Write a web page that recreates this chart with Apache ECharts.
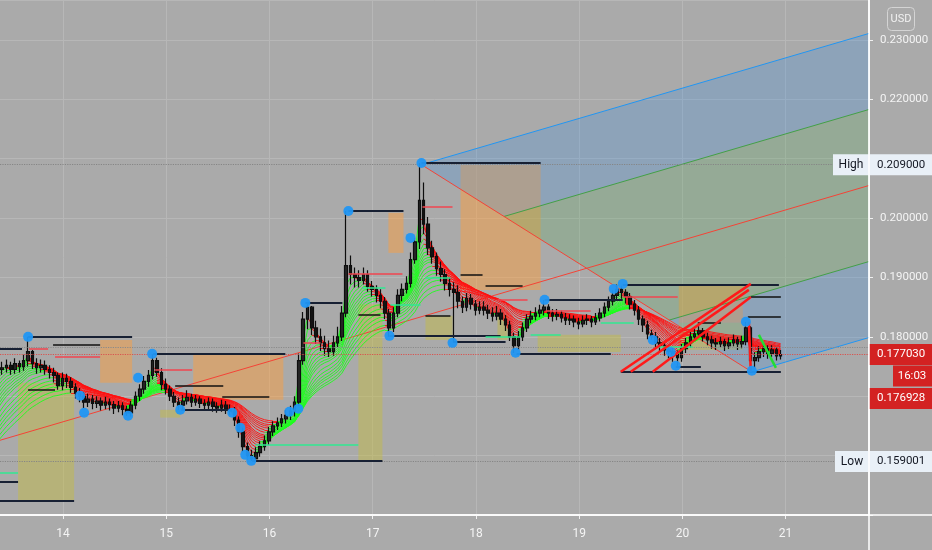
<!DOCTYPE html>
<html><head><meta charset="utf-8">
<script src="https://cdn.jsdelivr.net/npm/echarts@6/dist/echarts.min.js"></script>
<style>html,body{margin:0;padding:0;background:#aaaaaa}#c{width:932px;height:550px}</style>
</head><body><div id="c"></div>
<script>
// ---- data (prices in 1/10000 USD for candles) ----
const t0 = 13.41, STEP = 1 / 24, U = 1e-4;
const warmupCloses = [1540,1545,1550,1560,1575,1590,1610,1630,1650,1670,1690,1705,1720,1730,1740,1745];
const closes = [
1748,1752,1745,1755,1750,1760,1775, 1755,1748,1752,1745,1740,1735,1718, 1730,1725,1715,1705,1700,
1690,1695,1688,1692,1685,1690,1686,1680,1684,1678,1672, 1685,1700,1712,1725,1735,1760,
1740,1720,1712,1700,1690,1685, 1692,1698,1690,1695,1688,1685,1690,1683,1680,1685,1678,1675,
1660,1640,1615,1600,1595, 1605,1615,1625,1640,1650,1655,1662,1668,1675, 1690,1760,1830,1850,
1815,1800,1790,1780,1775,1790,1800,1840, 1920,1905, 1900,1895,1905,1885,1880,1870,1860,1840,1815,
1840,1870,1880,1890,1930,1960,2030, 1990,1950,1935,1915,1905,1890,1880,1875,
1860,1850,1865,1855,1845,1850, 1845,1840,1835,1840,1830,1820,1800,1785,
1800,1815,1830,1835,1840,1845,1850, 1840,1835,1838,1832,1828,1830,1825,1822,1828,1830,1825,1832,1840,
1850,1860,1870,1880,1875,1868, 1855,1845,1830,1820,1805,1800, 1790,1785,1778,1775,1770,1765,
1780,1790,1800,1805,1810,1800,1795,1790,1788,1792,1785,1790,1795,1788,1792,
1815,1760,1765,1775,1780,1772,1778,1768,1770];
const highs = [
1758,1762,1758,1764,1760,1770,1800, 1778,1764,1762,1760,1752,1748,1740, 1740,1738,1732,1722,1714,
1707,1704,1702,1700,1698,1699,1696,1692,1692,1690,1684, 1692,1708,1720,1734,1744,1771,
1765,1747,1730,1718,1707,1698, 1702,1710,1704,1702,1700,1695,1698,1696,1690,1694,1692,1686,
1682,1666,1647,1622,1610, 1614,1624,1634,1648,1658,1664,1670,1677,1684, 1700,1772,1842,1857,
1852,1827,1814,1802,1794,1802,1817,1852, 2012,1937, 1917,1912,1917,1912,1894,1887,1880,1867,1847,
1850,1880,1890,1902,1942,1967,2093, 2060,2002,1962,1942,1927,1914,1900,1892,
1887,1868,1874,1872,1862,1860, 1860,1854,1850,1852,1847,1837,1827,1807,
1810,1824,1838,1844,1850,1854,1862, 1855,1847,1847,1844,1840,1838,1836,1832,1836,1838,1835,1840,1848,
1858,1868,1878,1888,1886,1880, 1874,1862,1852,1836,1827,1812, 1808,1798,1792,1786,1782,1777,
1788,1798,1808,1814,1818,1815,1807,1802,1798,1800,1797,1799,1804,1800,1802,
1825,1818,1774,1784,1788,1786,1786,1782,1778];
const lows = [
1736,1740,1736,1738,1740,1743,1750, 1746,1738,1740,1736,1730,1723,1711, 1710,1714,1706,1696,1690,
1680,1682,1678,1680,1676,1678,1676,1670,1673,1668,1667, 1666,1678,1692,1704,1716,1728,
1733,1710,1703,1692,1682,1677, 1678,1686,1682,1684,1680,1676,1678,1674,1672,1674,1670,1668,
1650,1630,1606,1593,1591, 1590,1598,1608,1618,1633,1643,1648,1654,1660, 1666,1683,1753,1813,
1803,1788,1776,1768,1766,1768,1783,1793, 1833,1888, 1883,1883,1888,1876,1868,1858,1848,1830,1800,
1808,1833,1860,1873,1883,1923,1948, 1973,1938,1923,1903,1893,1878,1868,1790,
1848,1840,1843,1846,1836,1838, 1836,1830,1826,1828,1820,1810,1793,1773,
1778,1793,1808,1823,1828,1833,1836, 1830,1826,1828,1824,1820,1820,1816,1813,1816,1820,1816,1820,1826,
1833,1843,1853,1862,1864,1856, 1846,1836,1820,1808,1796,1795, 1780,1776,1768,1764,1758,1751,
1758,1773,1782,1793,1798,1792,1786,1780,1778,1782,1776,1780,1784,1778,1781,
1786,1743,1748,1758,1766,1763,1766,1760,1762];
const emaLengths = [2,3,4,5,6,7,8,9,10,11,12,14,16,18,20,22,25,28];
const xTicks = [14,15,16,17,18,19,20,21];
const yLabelTicks = [0.18,0.19,0.20,0.22,0.23];
// shaded session boxes: [day0, day1, priceLow, priceHigh, kind]
const rects = [
[13.564,14.107,0.15239,0.17226,'v'],[14.359,14.669,0.17226,0.17949,'o'],[14.941,15.135,0.16640,0.16771,'v'],
[15.261,16.134,0.16939,0.17697,'o'],[16.861,17.094,0.15896,0.18550,'v'],[17.152,17.298,0.19414,0.20088,'o'],
[17.511,17.773,0.17949,0.18354,'v'],[17.851,18.627,0.18791,0.20896,'o'],[18.209,18.307,0.17949,0.18371,'v'],
[18.598,19.403,0.17747,0.18034,'v'],[19.965,20.586,0.18236,0.18875,'o'],[19.965,20.586,0.17781,0.18236,'v']];
// horizontal levels: [day0, day1, price, kind]  k=pivot, b=box, r=red, g=green
const segments = [
[13.389,13.602,0.17798,'k'],[13.661,14.669,0.18000,'k'],[14.873,16.153,0.17714,'k'],[15.145,15.601,0.16771,'k'],
[15.833,17.094,0.15912,'k'],[16.347,16.706,0.18572,'k'],[16.764,17.298,0.20121,'k'],[17.162,18.239,0.18017,'k'],
[17.472,18.627,0.20930,'k'],[17.783,18.287,0.17916,'k'],[18.394,19.306,0.17714,'k'],[18.665,19.422,0.18623,'k'],
[19.422,20.935,0.18875,'k'],[19.936,20.179,0.17495,'k'],[19.403,20.954,0.17411,'k'],[13.389,14.107,0.15239,'k'],
[13.389,13.564,0.15559,'k'],
[13.903,14.359,0.17865,'b'],[13.661,13.922,0.17108,'b'],[15.086,15.552,0.17175,'b'],[15.542,15.998,0.16990,'b'],
[16.861,17.075,0.18370,'b'],[17.511,17.753,0.18354,'b'],[17.851,18.064,0.19044,'b'],[18.093,18.452,0.18859,'b'],
[20.663,20.954,0.18673,'b'],[20.634,20.954,0.18337,'b'],[20.149,20.373,0.18236,'b'],
[13.670,13.855,0.17798,'r'],[13.922,14.359,0.17663,'r'],[14.892,15.251,0.17444,'r'],[16.764,17.288,0.19061,'r'],
[17.482,17.773,0.20189,'r'],[18.209,18.500,0.18623,'r'],[18.675,19.111,0.18438,'r'],[19.422,19.955,0.18673,'r'],
[16.328,16.493,0.17899,'r'],
[13.389,13.564,0.15710,'g'],[15.862,16.861,0.16182,'g'],[16.900,17.123,0.18825,'g'],[17.172,17.463,0.18539,'g'],
[17.511,17.753,0.18993,'g'],[18.530,18.821,0.18034,'g'],[19.771,20.101,0.17832,'g'],[19.209,19.529,0.18236,'g'],
[18.093,18.433,0.18000,'g']];
const pivots = [
[13.661,0.1800],[14.165,0.17007],[14.204,0.16721],[14.630,0.16670],[14.727,0.17310],[14.863,0.17714],
[15.135,0.16771],[15.639,0.16721],[15.717,0.16468],[15.765,0.16013],[15.823,0.15912],[16.192,0.16737],
[16.279,0.16788],[16.347,0.18572],[16.764,0.20121],[17.162,0.18017],[17.366,0.19667],[17.472,0.20929],
[17.773,0.17899],[18.384,0.17731],[18.665,0.18623],[19.335,0.18808],[19.422,0.18892],[19.713,0.17949],
[19.887,0.17747],[19.936,0.17512],[20.615,0.18253],[20.673,0.17428]];
// drawn channel lines: [day0, price0, day1, price1, kind]
const channel = [
[19.403,0.17411,20.663,0.18892,'r'],[19.500,0.17411,20.644,0.18791,'r'],[19.713,0.17411,20.663,0.18673,'r'],
[20.644,0.18253,20.663,0.17411,'r'],[20.741,0.18034,20.906,0.17478,'g']];
const pfHandle = [13.0, 0.1606], pfHigh = [17.472, 0.2090], pfLow = [20.673, 0.1741];
const highPrice = 0.209, lowPrice = 0.159001, lastPrice = 0.17703, secondPrice = 0.176928, refLevel = 0.1783;
const countdown = '16:03';
const X_MIN = 13.389, X_MAX = 21.808, Y_MIN = 0.15, Y_MAX = 0.23673;

// ---- build ----
const FONT = "Roboto,'Liberation Sans',sans-serif";
const nW = warmupCloses.length;
const allCloses = warmupCloses.concat(closes);
const tOf = k => t0 + (k - nW) * STEP;
const greenSegs = [], redSegs = [];
emaLengths.forEach(L => {
  const a = 2 / (L + 1); let prev = allCloses[0];
  for (let k = 1; k < allCloses.length; k++) {
    const e = a * allCloses[k] + (1 - a) * prev;
    if (k >= nW) {
      const s = { coords: [[tOf(k - 1), prev * U], [tOf(k), e * U]] };
      (e >= prev ? greenSegs : redSegs).push(s);
    }
    prev = e;
  }
});
const candleData = closes.map((c, i) => {
  const o = i === 0 ? warmupCloses[nW - 1] : closes[i - 1];
  return [t0 + i * STEP, o * U, c * U, lows[i] * U, highs[i] * U];
});
const M = [(pfHigh[0] + pfLow[0]) / 2, (pfHigh[1] + pfLow[1]) / 2];
const slope = (M[1] - pfHandle[1]) / (M[0] - pfHandle[0]);
const ext = p => [X_MAX, p[1] + slope * (X_MAX - p[0])];
const U5 = [(pfHigh[0] + M[0]) / 2, (pfHigh[1] + M[1]) / 2];
const L5 = [(pfLow[0] + M[0]) / 2, (pfLow[1] + M[1]) / 2];
const PF_BLUE = 'rgba(40,140,240,0.22)', PF_GREEN = 'rgba(76,175,80,0.22)';
const polys = [[pfHigh, U5, ext(U5), ext(pfHigh), PF_BLUE], [U5, M, ext(M), ext(U5), PF_GREEN],
               [M, L5, ext(L5), ext(M), PF_GREEN], [L5, pfLow, ext(pfLow), ext(L5), PF_BLUE]];
const pfLines = [
  { coords: [pfHigh, ext(pfHigh)], lineStyle: { color: '#2196f3' } },
  { coords: [U5, ext(U5)], lineStyle: { color: '#43a047' } },
  { coords: [pfHandle, ext(M)], lineStyle: { color: '#f44336' } },
  { coords: [L5, ext(L5)], lineStyle: { color: '#43a047' } },
  { coords: [pfLow, ext(pfLow)], lineStyle: { color: '#2196f3' } },
  { coords: [pfHigh, pfLow], lineStyle: { color: '#f44336' } }];
const segStyle = { k: { color: '#172033', width: 2 }, b: { color: '#111', width: 1.5 }, r: { color: '#f0454f', width: 1.5 }, g: { color: '#2fe890', width: 1.5 } };
const segData = segments.map(s => ({ coords: [[s[0], s[2]], [s[1], s[2]]], lineStyle: segStyle[s[3]] }));
const chData = channel.map(c => ({ coords: [[c[0], c[1]], [c[2], c[3]]], lineStyle: { color: c[4] === 'r' ? '#ff1a1a' : '#22dd33', width: 2.5 } }));
const dotted = [
  { coords: [[X_MIN, highPrice], [X_MAX, highPrice]], lineStyle: { color: '#858585', type: 'dotted', width: 1.2 } },
  { coords: [[X_MIN, lowPrice], [X_MAX, lowPrice]], lineStyle: { color: '#858585', type: 'dotted', width: 1.2 } },
  { coords: [[X_MIN, refLevel], [X_MAX, refLevel]], lineStyle: { color: '#8a8a8a', type: 'dotted', width: 1.2 } },
  { coords: [[X_MIN, lastPrice], [X_MAX, lastPrice]], lineStyle: { color: '#d9534f', type: 'dotted', width: 1.2 } }];

const chart = echarts.init(document.getElementById('c'), null, { renderer: 'canvas' });
const linesBase = { type: 'lines', coordinateSystem: 'cartesian2d', polyline: false, silent: true, clip: true, animation: false };
chart.setOption({
  backgroundColor: '#aaaaaa',
  animation: false,
  grid: { left: 0, right: 63, top: 0, bottom: 35 },
  xAxis: {
    type: 'value', min: X_MIN, max: X_MAX,
    axisLine: { show: true, lineStyle: { color: '#ffffff', width: 1.5 } },
    axisTick: { show: true, customValues: xTicks, length: 4, lineStyle: { color: '#f0f0f0' } },
    axisLabel: { customValues: xTicks, color: '#f4f4f4', fontSize: 12, fontFamily: FONT, margin: 13, formatter: v => String(Math.round(v)) },
    splitLine: { show: true, lineStyle: { color: '#b7b7b7', width: 1 } }
  },
  yAxis: {
    type: 'value', position: 'right', min: Y_MIN, max: Y_MAX, interval: 0.01,
    axisLine: { show: true, lineStyle: { color: '#ffffff', width: 1.5 } },
    axisTick: { show: true, length: 4, lineStyle: { color: '#f0f0f0' } },
    axisLabel: { color: '#f4f4f4', fontSize: 11.5, fontFamily: FONT, margin: 11, showMaxLabel: false,
      formatter: v => yLabelTicks.some(t => Math.abs(t - v) < 1e-6) ? v.toFixed(6) : '' },
    splitLine: { show: true, lineStyle: { color: '#b7b7b7', width: 1 } }
  },
  series: [
    { type: 'custom', z: 1, silent: true, clip: true,
      data: rects.map(r => [r[0], r[1], r[2], r[3], r[4] === 'o' ? 0 : 1]),
      encode: { x: [0, 1], y: [2, 3] },
      renderItem: (p, api) => {
        const a = api.coord([api.value(0), api.value(3)]), b = api.coord([api.value(1), api.value(2)]);
        return { type: 'rect', shape: { x: a[0], y: a[1], width: b[0] - a[0], height: b[1] - a[1] },
          style: { fill: api.value(4) === 0 ? 'rgba(255,158,60,0.48)' : 'rgba(196,188,70,0.48)' } };
      } },
    { type: 'custom', z: 2, silent: true, clip: true,
      data: polys.map((p, i) => [p[0][0], p[0][1], i]),
      renderItem: (p, api) => {
        const poly = polys[api.value(2)];
        return { type: 'polygon', shape: { points: poly.slice(0, 4).map(pt => api.coord(pt)) }, style: { fill: poly[4] } };
      } },
    Object.assign({}, linesBase, { z: 3, data: pfLines, lineStyle: { width: 1, opacity: 1 } }),
    Object.assign({}, linesBase, { z: 4, data: greenSegs, lineStyle: { color: '#1cff1c', width: 1, opacity: 0.9 } }),
    Object.assign({}, linesBase, { z: 4, data: redSegs, lineStyle: { color: '#ff1010', width: 1, opacity: 0.9 } }),
    { type: 'candlestick', z: 5, silent: true, clip: true, barWidth: 3,
      data: candleData, encode: { x: 0, y: [1, 2, 3, 4] },
      itemStyle: { color: '#262626', color0: '#141414', borderColor: '#0d0d0d', borderColor0: '#0d0d0d', borderWidth: 1.2 } },
    Object.assign({}, linesBase, { z: 6, data: dotted, lineStyle: { width: 1, opacity: 1 } }),
    Object.assign({}, linesBase, { z: 7, data: segData, lineStyle: { opacity: 1 } }),
    Object.assign({}, linesBase, { z: 8, data: chData, lineStyle: { opacity: 1 } }),
    { type: 'scatter', z: 9, silent: true, symbolSize: 10, data: pivots, itemStyle: { color: '#2196f3', opacity: 0.95 } }
  ]
});

// ---- price-scale labels, placed through the axis scale ----
const yAt = v => chart.convertToPixel({ yAxisIndex: 0 }, v);
const yH = yAt(highPrice), yL = yAt(lowPrice), yP = yAt(lastPrice);
const AX = 869;
const txt = (x, y, s, fill, align, size) => ({ type: 'text', x: x, y: y, z: 20, style: { text: s, fill: fill, font: (size || 11.5) + 'px ' + FONT, align: align || 'left', verticalAlign: 'middle' } });
const box = (x, y, w, h, fill) => ({ type: 'rect', z: 19, shape: { x: x, y: y, width: w, height: h }, style: { fill: fill } });
chart.setOption({
  graphic: [
    box(833, yH - 10.5, 99, 21, '#e9f0f7'), txt(851, yH, 'High', '#131722', 'center', 12), txt(877, yH, highPrice.toFixed(6), '#131722'),
    box(835, yL - 10.5, 97, 21, '#e9f0f7'), txt(852, yL, 'Low', '#131722', 'center', 12), txt(877, yL, lowPrice.toFixed(6), '#131722'),
    box(AX, yP - 10.5, 63, 21, '#d32222'), txt(877, yP, lastPrice.toFixed(6), '#ffffff'),
    box(893, yP + 11, 39, 21, '#d32222'), txt(912, yP + 21.5, countdown, '#ffffff', 'center'),
    box(AX, yP + 33.5, 63, 21, '#d32222'), txt(877, yP + 44, secondPrice.toFixed(6), '#ffffff'),
    { type: 'rect', z: 20, shape: { x: 887.5, y: 7.5, width: 27, height: 23, r: 4 }, style: { fill: 'transparent', stroke: '#d4d4d4', lineWidth: 1 } },
    txt(901, 19, 'USD', '#f2f2f2', 'center', 11),
    { type: 'line', z: 21, shape: { x1: AX, y1: 0, x2: AX, y2: 550 }, style: { stroke: '#ffffff', lineWidth: 1.5 } },
    { type: 'line', z: 21, shape: { x1: 0, y1: 515, x2: 932, y2: 515 }, style: { stroke: '#ffffff', lineWidth: 1.5 } }
  ]
});
</script></body></html>
